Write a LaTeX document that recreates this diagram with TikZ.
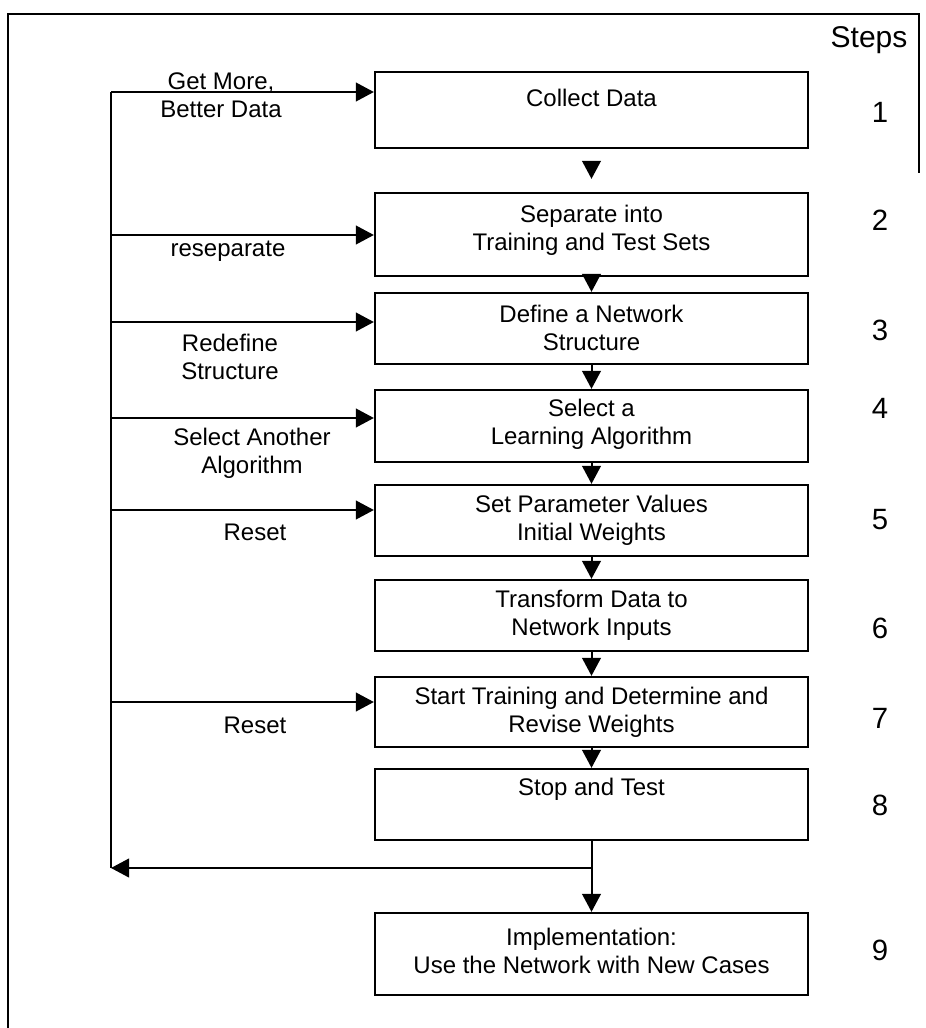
\documentclass[tikz,border=0pt]{standalone}
\usepackage{fontspec}
\setmainfont{Liberation Sans}
\usetikzlibrary{arrows.meta}
\begin{document}
\begin{tikzpicture}[x=0.75pt,y=-0.75pt,
  stepbox/.style={draw, line width=1.7pt, minimum width=324.75pt, inner sep=0pt},
  txt/.style={align=center, inner sep=0pt, font=\fontsize{18}{21}\selectfont},
  num/.style={inner sep=0pt, font=\fontsize{22}{26}\selectfont},
  wire/.style={line width=1.5pt},
  arr/.style={wire, -{Triangle[length=13.5pt,width=14pt]}}]
\useasboundingbox (0,0) rectangle (925,1028);

% outer frame
\draw[line width=1.5pt] (8,1028) -- (8,14) -- (919,14) -- (919,173);
\node[inner sep=0pt, font=\fontsize{22.5}{26}\selectfont] (steps) at (869,40) {Steps};

% process boxes
\node[stepbox, minimum height=57pt]    (b1) at (591.5,110)   {};
\node[stepbox, minimum height=62.25pt] (b2) at (591.5,234.5) {};
\node[stepbox, minimum height=53.25pt] (b3) at (591.5,328.5) {};
\node[stepbox, minimum height=54pt]    (b4) at (591.5,426)   {};
\node[stepbox, minimum height=53.25pt] (b5) at (591.5,520.5) {};
\node[stepbox, minimum height=53.25pt] (b6) at (591.5,615.5) {};
\node[stepbox, minimum height=52.5pt]  (b7) at (591.5,712)   {};
\node[stepbox, minimum height=53.25pt] (b8) at (591.5,804.5) {};
\node[stepbox, minimum height=61.5pt]  (b9) at (591.5,954)   {};

% box texts
\node[txt] (t1) at (591.5,98)  {Collect Data};
\node[txt] (t2) at (591.5,230) {Separate into\\Training and Test Sets};
\node[txt] (t3) at (591.5,328) {Define a Network\\Structure};
\node[txt] (t4) at (591.5,424) {Select a\\Learning Algorithm};
\node[txt] (t5) at (591.5,520) {Set Parameter Values\\Initial Weights};
\node[txt] (t6) at (591.5,615) {Transform Data to\\Network Inputs};
\node[txt] (t7) at (591.5,712) {Start Training and Determine and\\Revise Weights};
\node[txt] (t8) at (591.5,789) {Stop and Test};
\node[txt] (t9) at (591.5,951) {Implementation:\\Use the Network with New Cases};

% step numbers
\node[num] (n1) at (880,112) {1};
\node[num] (n2) at (880,220) {2};
\node[num] (n3) at (880,330) {3};
\node[num] (n4) at (880,408) {4};
\node[num] (n5) at (880,520) {5};
\node[num] (n6) at (880,628) {6};
\node[num] (n7) at (880,718) {7};
\node[num] (n8) at (880,805) {8};
\node[num] (n9) at (880,950) {9};

% forward flow
\draw[arr, shorten <=11pt, shorten >=9.75pt] (b1.south) -- (b2.north);
\draw[arr] (b2.south) -- (b3.north);
\draw[arr] (b3.south) -- (b4.north);
\draw[arr] (b4.south) -- (b5.north);
\draw[arr] (b5.south) -- (b6.north);
\draw[arr] (b6.south) -- (b7.north);
\draw[arr] (b7.south) -- (b8.north);

% split after testing
\coordinate (j) at (591.5,868);
\coordinate (fb) at (111,868);
\draw[wire] (b8.south) -- (j);
\draw[arr] (j) -- (b9.north);
\draw[arr] (j) -- (fb);

% feedback loop
\coordinate (f1) at (111,92);
\coordinate (f2) at (111,235);
\coordinate (f3) at (111,322);
\coordinate (f4) at (111,418);
\coordinate (f5) at (111,510);
\coordinate (f7) at (111,702);
\draw[wire] (fb) -- (f1);
\draw[arr] (f1) -- (f1 -| b1.west);
\draw[arr] (f2) -- (f2 -| b2.west);
\draw[arr] (f3) -- (f3 -| b3.west);
\draw[arr] (f4) -- (f4 -| b4.west);
\draw[arr] (f5) -- (f5 -| b5.west);
\draw[arr] (f7) -- (f7 -| b7.west);

% feedback labels
\node[txt] (l1) at (221,95)  {Get More,\\Better Data};
\node[txt] (l2) at (228,251) {reseparate};
\node[txt] (l3) at (230,357) {Redefine\\Structure};
\node[txt] (l4) at (252,453) {Select Another\\Algorithm};
\node[txt] (l5) at (255,532) {Reset};
\node[txt] (l7) at (255,725) {Reset};
\end{tikzpicture}
\end{document}
